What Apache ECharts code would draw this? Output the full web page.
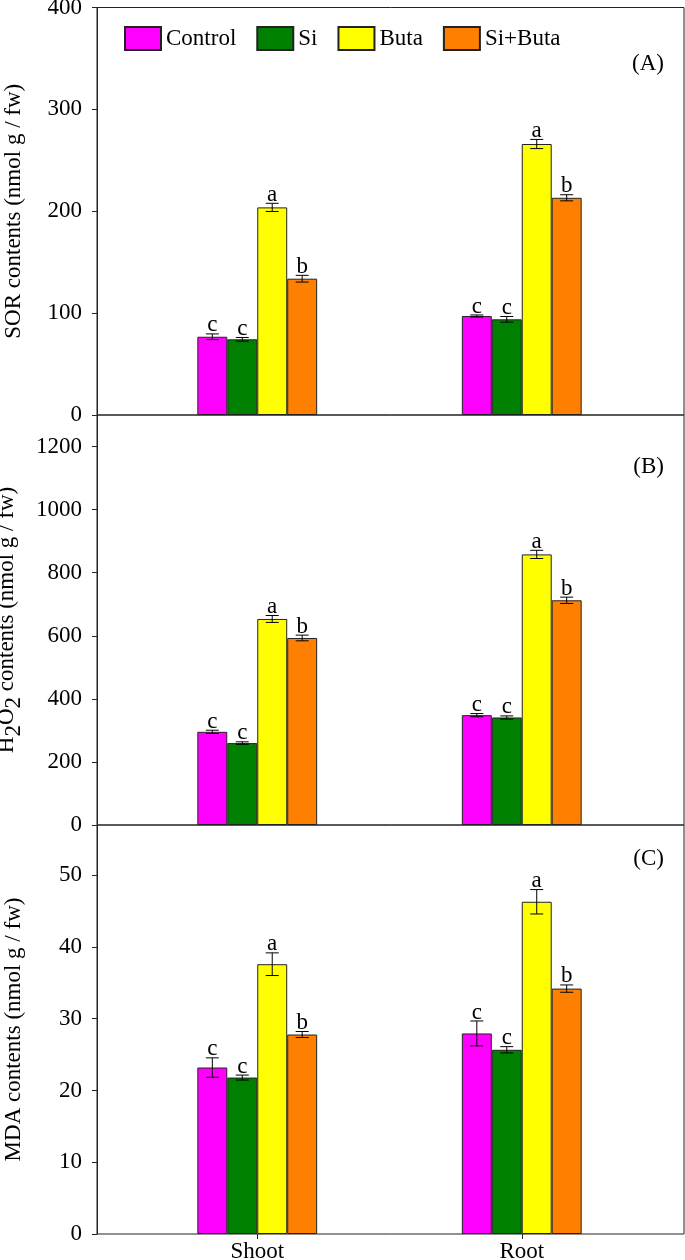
<!DOCTYPE html>
<html>
<head>
<meta charset="utf-8">
<script src="https://cdn.jsdelivr.net/npm/echarts@6/dist/echarts.min.js"></script>
<style>
html,body{margin:0;padding:0;background:#fff;}
#chart{width:685px;height:1260px;}
</style>
</head>
<body>
<div id="chart"></div>
<script>
const categories = ['Shoot', 'Root'];
const treatments = ['Control', 'Si', 'Buta', 'Si+Buta'];
const colors = ['#FF00FF', '#008000', '#FFFF00', '#FF8000'];

// per treatment: [Shoot, Root]
const sorMeans = [[76.8, 97.2], [74.3, 93.9], [203.8, 266.0], [133.8, 213.2]];
const sorErrors = [[2.8, 1.0], [1.8, 2.8], [4.0, 4.5], [3.3, 3.0]];
const sorLetters = [['c', 'c'], ['c', 'c'], ['a', 'a'], ['b', 'b']];
const sorTicks = [0, 100, 200, 300, 400];
const sorMax = 400;

const h2o2Means = [[295.5, 348.3], [259.7, 340.9], [653.3, 858.0], [593.0, 712.5]];
const h2o2Errors = [[5, 5], [4, 5], [11, 13], [9, 10]];
const h2o2Letters = [['c', 'c'], ['c', 'c'], ['a', 'a'], ['b', 'b']];
const h2o2Ticks = [0, 200, 400, 600, 800, 1000, 1200];
const h2o2Max = 1300;

const mdaMeans = [[23.2, 27.95], [21.8, 25.67], [37.6, 46.3], [27.8, 34.2]];
const mdaErrors = [[1.35, 1.74], [0.35, 0.44], [1.58, 1.7], [0.42, 0.51]];
const mdaLetters = [['c', 'c'], ['c', 'c'], ['a', 'a'], ['b', 'b']];
const mdaTicks = [0, 10, 20, 30, 40, 50];
const mdaMax = 57;

const panelLabels = ['(A)', '(B)', '(C)'];

const FONT = 'Liberation Serif';
const FS = 23;
const LINE = '#222';
const GAP = 0.547;

const panels = [
  {means: sorMeans, errs: sorErrors, letters: sorLetters, ticks: sorTicks, max: sorMax,
   name: 'SOR contents (nmol g / fw)', top: 7.5, height: 407.5, labelTop: 47},
  {means: h2o2Means, errs: h2o2Errors, letters: h2o2Letters, ticks: h2o2Ticks, max: h2o2Max,
   name: '{n|H}{s|2}{n|O}{s|2}{n| contents (nmol g / fw)}', top: 415, height: 410, labelTop: 450},
  {means: mdaMeans, errs: mdaErrors, letters: mdaLetters, ticks: mdaTicks, max: mdaMax,
   name: 'MDA contents (nmol g / fw)', top: 825, height: 409, labelTop: 842}
];

const grids = [], xAxes = [], yAxes = [], series = [], titles = [];

panels.forEach((p, k) => {
  const interval = p.ticks[1] - p.ticks[0];
  // frame grid
  grids.push({left: 97, right: 1, top: p.top, height: p.height, show: true,
    borderColor: LINE, borderWidth: 1, backgroundColor: 'transparent',
    containLabel: false, outerBoundsMode: 'none'});
  // plot grid
  grids.push({left: 125, right: 31, top: p.top, height: p.height,
    containLabel: false, outerBoundsMode: 'none'});
  const fi = 2 * k, pi = 2 * k + 1;
  xAxes.push({gridIndex: fi, type: 'value', min: 0, max: 1, show: false});
  xAxes.push({gridIndex: pi, type: 'category', data: categories,
    show: k === 2,
    axisLine: {show: false},
    axisTick: {show: true, alignWithLabel: true, length: 5, lineStyle: {color: LINE}},
    axisLabel: {fontFamily: FONT, fontSize: FS, color: '#000', margin: 6},
    splitLine: {show: false}});
  yAxes.push({gridIndex: fi, type: 'value', min: 0, max: p.max, interval: interval,
    name: p.name, nameLocation: 'middle', nameGap: 72, nameRotate: 90,
    nameTextStyle: {fontFamily: FONT, fontSize: FS, color: '#000',
      rich: {n: {fontFamily: FONT, fontSize: FS, color: '#000', verticalAlign: 'top'},
             s: {fontFamily: FONT, fontSize: FS, color: '#000', verticalAlign: 'top', padding: [7, 0, 0, 0]}}},
    axisLine: {show: true, lineStyle: {color: LINE}},
    axisTick: {show: true, inside: false, length: 5, lineStyle: {color: LINE}},
    axisLabel: {fontFamily: FONT, fontSize: FS, color: '#000', margin: 15,
      formatter: v => (p.ticks.indexOf(v) >= 0 ? String(v) : '')},
    splitLine: {show: false}});
  yAxes.push({gridIndex: pi, type: 'value', min: 0, max: p.max, show: false, splitLine: {show: false}});

  treatments.forEach((t, i) => {
    series.push({type: 'bar', name: t, xAxisIndex: pi, yAxisIndex: pi,
      data: p.means[i], barGap: '0%', barCategoryGap: (GAP * 100) + '%',
      itemStyle: {color: colors[i], borderColor: LINE, borderWidth: 1},
      emphasis: {disabled: true}, z: 2});
    const letters = p.letters[i];
    series.push({type: 'custom', name: 'err' + k + i, xAxisIndex: pi, yAxisIndex: pi, z: 3,
      data: p.means[i].map((m, j) => [j, m, p.errs[i][j]]),
      encode: {x: 0, y: 1},
      renderItem: function (params, api) {
        const cat = api.value(0), mean = api.value(1), err = api.value(2);
        const band = api.size([1, 0])[0];
        const bw = band * (1 - GAP) / 4;
        const hi = api.coord([cat, mean + err]);
        const lo = api.coord([cat, mean - err]);
        const x = hi[0] + (i - 1.5) * bw;
        const cap = 6.5;
        const st = {stroke: '#000', lineWidth: 1};
        return {type: 'group', children: [
          {type: 'line', shape: {x1: x, y1: hi[1], x2: x, y2: lo[1]}, style: st},
          {type: 'line', shape: {x1: x - cap, y1: hi[1], x2: x + cap, y2: hi[1]}, style: st},
          {type: 'line', shape: {x1: x - cap, y1: lo[1], x2: x + cap, y2: lo[1]}, style: st},
          {type: 'text', style: {text: letters[params.dataIndex], x: x, y: hi[1] + 3,
            align: 'center', verticalAlign: 'bottom', font: '23px "' + FONT + '"', fill: '#000'}}
        ]};
      }});
  });

  titles.push({text: panelLabels[k], right: 16, top: p.labelTop,
    textStyle: {fontFamily: FONT, fontSize: FS, fontWeight: 'normal', color: '#000'}});
});

const chart = echarts.init(document.getElementById('chart'), null, {renderer: 'canvas'});
chart.setOption({
  animation: false,
  backgroundColor: '#fff',
  title: titles,
  legend: {data: treatments, left: 119, top: 21, itemWidth: 36, itemHeight: 23, itemGap: 20,
    icon: 'rect', selectedMode: false,
    textStyle: {fontFamily: FONT, fontSize: FS, color: '#000'}},
  grid: grids,
  xAxis: xAxes,
  yAxis: yAxes,
  series: series
});
</script>
</body>
</html>
